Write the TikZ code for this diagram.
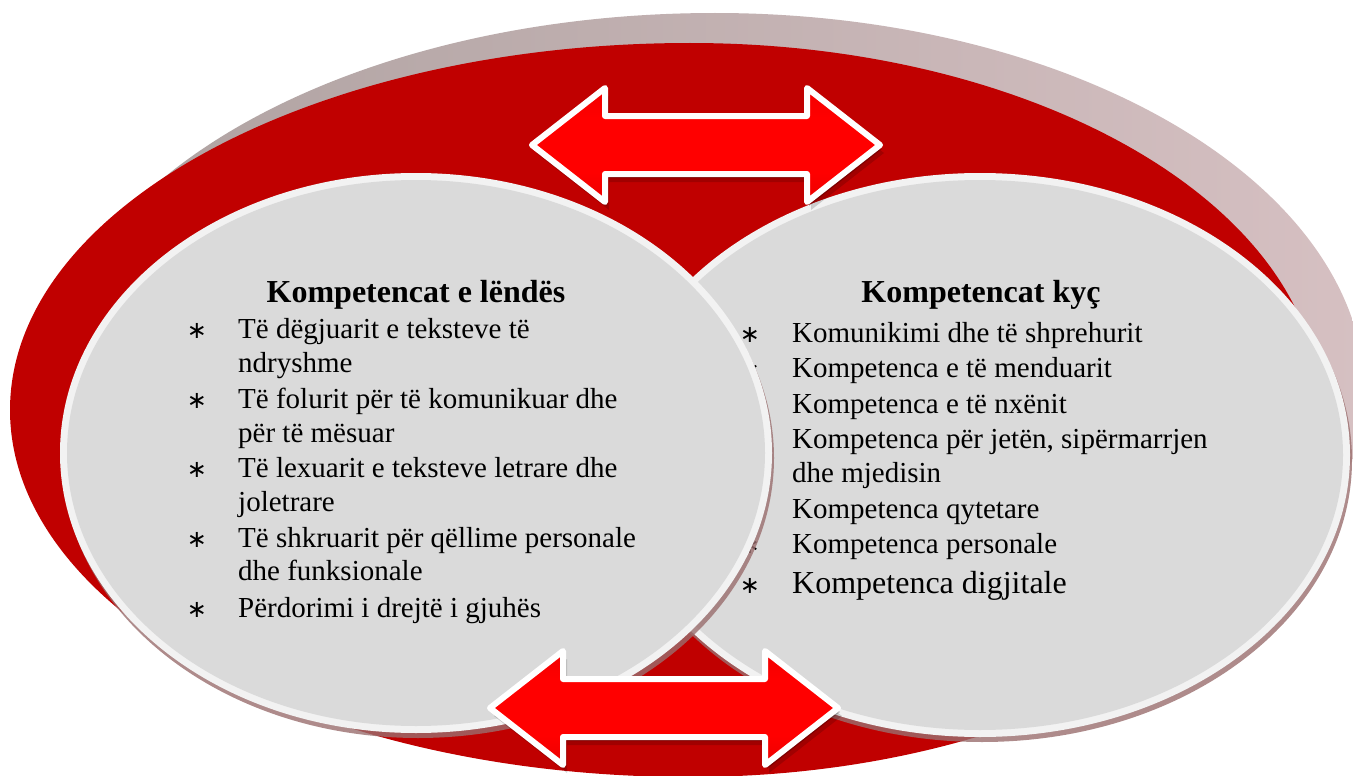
\documentclass[tikz,border=0pt]{standalone}
\usepackage{fontspec}
\setmainfont{Liberation Serif}
\newfontfamily\bulfont{DejaVu Sans}
\definecolor{redbg}{HTML}{C00000}
\definecolor{rimc}{HTML}{F2F2F2}
\definecolor{innerc}{HTML}{DADADA}
\definecolor{greyL}{HTML}{ADA1A0}
\definecolor{greyM}{HTML}{8F8181}
\definecolor{greyR}{HTML}{D6C0C2}
\definecolor{shadowc}{HTML}{9A6E6E}
\definecolor{arrTop}{HTML}{E40000}
\definecolor{arrMid}{HTML}{FF0000}
\definecolor{arrBot}{HTML}{C40000}
\pgfdeclareverticalshading{arrowsh}{100bp}{color(0bp)=(arrBot); color(22bp)=(arrBot!40!arrMid); color(38bp)=(arrMid); color(62bp)=(arrMid); color(78bp)=(arrTop!60!arrMid); color(100bp)=(arrTop)}
\tikzset{
  bodytext/.style={anchor=base west, inner sep=0pt, font=\fontsize{29}{34}\selectfont},
  bigtext/.style={anchor=base west, inner sep=0pt, font=\fontsize{32}{36}\selectfont},
  titletext/.style={anchor=base, inner sep=0pt, font=\fontsize{32}{36}\selectfont\bfseries},
  bul/.style={anchor=base, inner sep=0pt, font=\bulfont\fontsize{24}{34}\selectfont},
  dblarrow/.pic={
    \fill[black, opacity=0.16, shift={(4,8)}] (-174,0) -- (-101,-57) -- (-101,-29) -- (101,-29) -- (101,-57) -- (174,0) -- (101,57) -- (101,29) -- (-101,29) -- (-101,57) -- cycle;
    \fill[black, opacity=0.22, shift={(2,4)}] (-174,0) -- (-101,-57) -- (-101,-29) -- (101,-29) -- (101,-57) -- (174,0) -- (101,57) -- (101,29) -- (-101,29) -- (-101,57) -- cycle;
    \shade[shading=arrowsh] (-174,0) -- (-101,-57) -- (-101,-29) -- (101,-29) -- (101,-57) -- (174,0) -- (101,57) -- (101,29) -- (-101,29) -- (-101,57) -- cycle;
    \draw[white, line width=6, line join=round] (-174,0) -- (-101,-57) -- (-101,-29) -- (101,-29) -- (101,-57) -- (174,0) -- (101,57) -- (101,29) -- (-101,29) -- (-101,57) -- cycle;
  }
}
\begin{document}
\begin{tikzpicture}[x=1pt,y=-1pt]
\useasboundingbox (0,0) rectangle (1353,776);
\fill[white] (0,0) rectangle (1353,776);

% grey back disc
\shade[left color=greyL, middle color=greyM, right color=greyR]
  (715,13) arc[start angle=90, end angle=180, x radius=670pt, y radius=382pt]
  arc[start angle=180, end angle=270, x radius=670pt, y radius=330pt]
  arc[start angle=270, end angle=360, x radius=650pt, y radius=330pt]
  arc[start angle=0, end angle=90, x radius=650pt, y radius=382pt] -- cycle;

% red disc
\fill[redbg]
  (690,43) arc[start angle=90, end angle=270, x radius=680pt, y radius=367pt]
  arc[start angle=270, end angle=450, x radius=630pt, y radius=367pt] -- cycle;

% right ellipse
\coordinate (rc) at (980,455);
\fill[shadowc, opacity=0.8] (982,460) ellipse[x radius=370pt, y radius=282pt];
\fill[rimc] (rc) ellipse[x radius=370pt, y radius=282pt];
\fill[innerc] (rc) ellipse[x radius=363pt, y radius=275pt];

\node[titletext] (rt) at (981,302) {Kompetencat kyç};
\node[bul] (rb1) at (750,342) {∗};
\node[bodytext] (r1) at (792,342) {Komunikimi dhe të shprehurit};
\node[bul] (rb2) at (750,377) {∗};
\node[bodytext] (r2) at (792,377) {Kompetenca e të menduarit};
\node[bul] (rb3) at (750,413) {∗};
\node[bodytext] (r3) at (792,413) {Kompetenca e të nxënit};
\node[bul] (rb4) at (750,448) {∗};
\node[bodytext] (r4) at (792,448) {Kompetenca për jetën, sipërmarrjen};
\node[bodytext] (r4b) at (792,482) {dhe mjedisin};
\node[bul] (rb5) at (750,518) {∗};
\node[bodytext] (r5) at (792,518) {Kompetenca qytetare};
\node[bul] (rb6) at (750,553) {∗};
\node[bodytext] (r6) at (792,553) {Kompetenca personale};
\node[bul] (rb7) at (750,593) {∗};
\node[bigtext] (r7) at (792,593) {Kompetenca digjitale};

% left ellipse
\coordinate (lc) at (416,453);
\fill[shadowc, opacity=0.8] (418,458) ellipse[x radius=356pt, y radius=280pt];
\fill[rimc] (lc) ellipse[x radius=356pt, y radius=280pt];
\fill[innerc] (lc) ellipse[x radius=349pt, y radius=273pt];

\node[titletext] (lt) at (416,302) {Kompetencat e lëndës};
\node[bul] (lb1) at (197,338) {∗};
\node[bodytext] (l1) at (238,338) {Të dëgjuarit e teksteve të};
\node[bodytext] (l1b) at (238,372) {ndryshme};
\node[bul] (lb2) at (197,408) {∗};
\node[bodytext] (l2) at (238,408) {Të folurit për të komunikuar dhe};
\node[bodytext] (l2b) at (238,442) {për të mësuar};
\node[bul] (lb3) at (197,477) {∗};
\node[bodytext] (l3) at (238,477) {Të lexuarit e teksteve letrare dhe};
\node[bodytext] (l3b) at (238,511) {joletrare};
\node[bul] (lb4) at (197,547) {∗};
\node[bodytext] (l4) at (238,547) {Të shkruarit për qëllime personale};
\node[bodytext] (l4b) at (238,580) {dhe funksionale};
\node[bul] (lb5) at (197,617) {∗};
\node[bodytext] (l5) at (238,617) {Përdorimi i drejtë i gjuhës};

% arrows
\pic (toparrow) at (706,145) {dblarrow};
\pic (botarrow) at (664,708) {dblarrow};
\end{tikzpicture}
\end{document}
